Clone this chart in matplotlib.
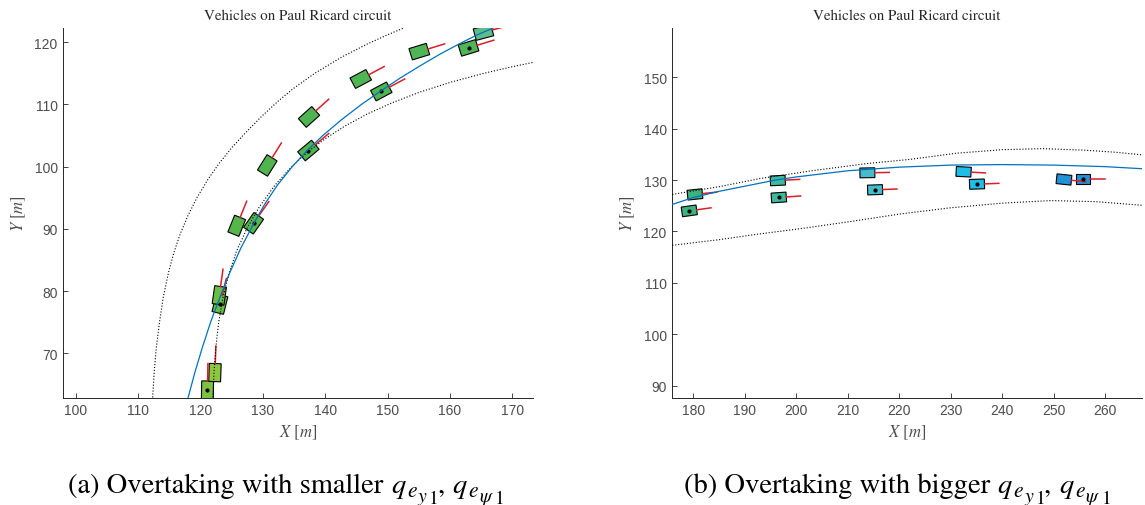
import numpy as np
import matplotlib.pyplot as plt
from matplotlib.patches import Rectangle

plt.rcParams['mathtext.fontset'] = 'stix'

# ---- panel (a): track borders and reference line ----
a_center_x = [118.0, 119.1, 120.3, 121.6, 123.1, 124.7, 126.5, 128.6, 130.3, 132.3, 134.7, 137.1,
              139.6, 142.55, 145.8, 149.1, 152.1, 155.2, 158.6, 162.0, 164.4, 167.2]
a_center_y = [62.9, 67.0, 71.0, 75.0, 79.0, 83.0, 87.0, 91.0, 94.0, 97.0, 100.0, 102.6,
              105.0, 107.5, 110.0, 112.3, 114.3, 116.2, 118.2, 120.0, 121.2, 122.4]
a_outer_x = [112.3, 112.55, 112.9, 113.4, 114.0, 114.85, 115.65, 116.65, 117.9, 119.4, 121.2,
             122.95, 124.95, 127.25, 129.7, 132.4, 134.8, 138.3, 142.6, 146.9, 150.0, 152.6]
a_outer_y = [62.9, 67.0, 71.0, 75.0, 79.0, 83.0, 86.0, 89.0, 92.0, 95.0, 98.0,
             100.5, 103.0, 105.5, 108.0, 110.5, 112.5, 115.0, 117.6, 119.8, 121.2, 122.3]
a_inner_x = [122.0, 122.15, 122.45, 122.9, 123.6, 124.6, 125.8, 127.4, 129.4, 131.9, 134.6,
             137.35, 140.0, 143.1, 146.8, 150.8, 155.2, 160.2, 165.4, 169.7, 173.5]
a_inner_y = [62.9, 67.0, 71.0, 75.0, 79.0, 83.0, 86.5, 90.0, 93.5, 97.0, 100.0,
             102.5, 104.5, 106.5, 108.5, 110.3, 112.0, 113.6, 115.0, 116.0, 116.8]

# vehicles: centre, heading [deg], fill colour, ego flag
a_car_x = [121.1, 122.3, 123.1, 123.0, 128.5, 125.8, 137.3, 130.7, 149.0, 137.4, 163.0, 145.7, 155.1, 165.4]
a_car_y = [64.1, 66.9, 77.9, 79.3, 90.9, 90.5, 102.6, 100.2, 112.1, 108.0, 119.1, 114.1, 118.5, 121.6]
a_car_hdg = [89, 88, 76, 82, 55, 68, 40, 58, 28, 42, 17, 28, 17, 15]
a_car_col = ['#7dc142', '#8dc63f', '#66bc45', '#6abd45', '#55b64a', '#55b64a', '#50b54e',
             '#50b54e', '#4fb552', '#4fb552', '#50b556', '#4fb552', '#50b556', '#5cbd8c']
a_car_ego = [1, 0, 1, 0, 1, 0, 1, 0, 1, 0, 1, 0, 0, 0]

# ---- panel (b) ----
b_center_x = [175.9, 180.0, 185.0, 190.0, 196.0, 200.0, 210.0, 220.0, 230.0, 240.0, 250.0, 260.0, 267.1]
b_center_y = [125.25, 126.6, 127.8, 128.8, 130.0, 130.6, 131.8, 132.5, 132.9, 133.0, 132.9, 132.6, 132.2]
b_upper_x = [175.9, 185.0, 193.0, 203.0, 213.7, 222.0, 231.0, 240.0, 248.0, 256.0, 262.0, 267.1]
b_upper_y = [127.2, 128.7, 130.3, 131.8, 133.2, 134.0, 135.2, 135.9, 136.1, 135.8, 135.4, 134.9]
b_lower_x = [175.9, 185.0, 192.0, 202.0, 211.0, 220.2, 230.0, 240.0, 249.4, 258.0, 267.1]
b_lower_y = [117.3, 118.4, 119.4, 120.7, 122.0, 123.4, 124.6, 125.5, 126.0, 125.8, 125.1]

b_car_x = [179.2, 180.3, 196.6, 196.4, 215.3, 213.8, 235.1, 232.5, 255.7, 252.0]
b_car_y = [124.0, 127.2, 126.6, 129.9, 128.1, 131.4, 129.2, 131.6, 130.2, 130.1]
b_car_hdg = [8, 6, 4, 3, 2, 1, 2, -3, 0, -6]
b_car_col = ['#3bb47e', '#3bb47e', '#3db99e', '#3db99e', '#45bccc', '#45bccc',
             '#1ebee6', '#1ebee6', '#2292d6', '#2292d6']
b_car_ego = [1, 0, 1, 0, 1, 0, 1, 0, 1, 0]

CAR_L, CAR_W = 2.9, 1.9
VEL_LEN = 2.8
GREY = '#4d4d4d'
FIG_W, FIG_H = 1145, 506


def draw_car(ax, x, y, hdg, col, ego):
    ax.add_patch(Rectangle((x - CAR_L / 2, y - CAR_W / 2), CAR_L, CAR_W, angle=hdg,
                           rotation_point='center', facecolor=col, edgecolor='k',
                           lw=0.8, zorder=2))
    t = np.radians(hdg)
    r0, r1 = CAR_L / 2, CAR_L / 2 + VEL_LEN
    ax.plot([x + r0 * np.cos(t), x + r1 * np.cos(t)], [y + r0 * np.sin(t), y + r1 * np.sin(t)],
            color='#d81e28', lw=1.1, zorder=2.5)
    if ego:
        ax.plot(x, y, 'o', color='k', ms=2, zorder=2.6)


def setup_axes(ax, xlim, ylim, xticks, yticks):
    ax.set_xlim(*xlim)
    ax.set_ylim(*ylim)
    ax.set_xticks(xticks)
    ax.set_yticks(yticks)
    for s in ['top', 'right']:
        ax.spines[s].set_visible(False)
    for s in ['left', 'bottom']:
        ax.spines[s].set_color('#262626')
        ax.spines[s].set_linewidth(0.7)
    ax.tick_params(direction='in', length=3.5, width=0.6, color='#262626',
                   labelcolor=GREY, labelsize=10, pad=4)
    for lab in ax.get_xticklabels() + ax.get_yticklabels():
        lab.set_fontfamily('Liberation Sans')
    ax.text(0.5, 1.036, 'Vehicles on Paul Ricard circuit', transform=ax.transAxes,
            ha='center', va='center', fontsize=10.8, family='STIXGeneral', color='#262626')
    ax.text(0.5, -0.093, r'$X\ [m]$', transform=ax.transAxes, ha='center', va='center',
            fontsize=12, color=GREY)
    ax.text(-0.094, 0.5, r'$Y\ [m]$', transform=ax.transAxes, ha='center', va='center',
            rotation=90, fontsize=12, color=GREY)


def caption(fig, centre_px, baseline_px, parts):
    # lay the pieces out one after another: (text, size, drop below baseline in px)
    renderer = fig.canvas.get_renderer()
    texts = []
    x = 0.0
    for s, size, drop in parts:
        t = fig.text(x / FIG_W, 1 - (baseline_px + drop) / FIG_H, s, fontsize=size,
                     family='STIXGeneral', ha='left', va='baseline')
        texts.append(t)
        x += t.get_window_extent(renderer).width
    x = centre_px - x / 2
    for t in texts:
        t.set_x(x / FIG_W)
        x += t.get_window_extent(renderer).width


def math_parts(label):
    return [(label, 20.5, 0), (r'$q$', 20.5, 0), (r'$e$', 15.5, 4.5), (r'$y$', 14.2, 9),
            (r'$1$', 13.8, 11), (', ', 20.5, 0), (r'$q$', 20.5, 0), (r'$e$', 15.5, 4.5),
            (r'$\psi$', 14.2, 9), (r'$1$', 13.8, 11)]


fig = plt.figure(figsize=(FIG_W / 100, FIG_H / 100), dpi=100)
ax_a = fig.add_axes([63.3 / FIG_W, 1 - 398.7 / FIG_H, 469.4 / FIG_W, 369.4 / FIG_H])
ax_b = fig.add_axes([672.3 / FIG_W, 1 - 398.7 / FIG_H, 469.4 / FIG_W, 369.4 / FIG_H])

for i in range(len(a_car_x)):
    draw_car(ax_a, a_car_x[i], a_car_y[i], a_car_hdg[i], a_car_col[i], a_car_ego[i])
ax_a.plot(a_outer_x, a_outer_y, 'k:', lw=0.8, zorder=3)
ax_a.plot(a_inner_x, a_inner_y, 'k:', lw=0.8, zorder=3)
ax_a.plot(a_center_x, a_center_y, color='#0072bd', lw=0.9, zorder=3)
setup_axes(ax_a, (97.96, 173.3), (62.86, 122.25), range(100, 171, 10), range(70, 121, 10))

for i in range(len(b_car_x)):
    draw_car(ax_b, b_car_x[i], b_car_y[i], b_car_hdg[i], b_car_col[i], b_car_ego[i])
ax_b.plot(b_upper_x, b_upper_y, 'k:', lw=0.8, zorder=3)
ax_b.plot(b_lower_x, b_lower_y, 'k:', lw=0.8, zorder=3)
ax_b.plot(b_center_x, b_center_y, color='#0072bd', lw=0.9, zorder=3)
setup_axes(ax_b, (175.9, 267.1), (87.67, 159.5), range(180, 261, 10), range(90, 151, 10))

caption(fig, 286, 493, math_parts('(a) Overtaking with smaller '))
caption(fig, 897, 493, math_parts('(b) Overtaking with bigger '))

fig.savefig('out.png', dpi=100)
